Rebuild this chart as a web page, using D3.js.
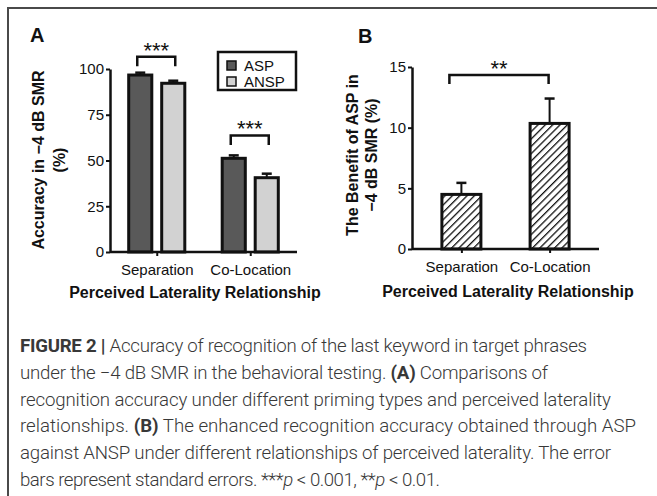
<!DOCTYPE html>
<html>
<head>
<meta charset="utf-8">
<script src="https://cdn.jsdelivr.net/npm/d3@7"></script>
<style>
  body { margin: 0; background: #fff; }
  svg text { font-family: "Liberation Sans", Arial, sans-serif; fill: #111; }
  .caption text { font-family: Roboto, "Liberation Sans", sans-serif; fill: #383838; }
</style>
</head>
<body>
<div id="fig"></div>
<script>
// ---- data ----
var groups = ["Separation", "Co-Location"];
var primingTypes = ["ASP", "ANSP"];
var accuracyASP = [96.7, 51.2];
var accuracyANSP = [92.2, 40.6];
var accuracyASPErr = [1.3, 1.6];
var accuracyANSPErr = [1.4, 2.2];
var accuracyTicks = [0, 25, 50, 75, 100];
var benefit = [4.5, 10.35];
var benefitErr = [0.95, 2.05];
var benefitTicks = [0, 5, 10, 15];

var captionLines = [
  [["FIGURE 2 |", "b"], [" Accuracy of recognition of the last keyword in target phrases"]],
  [["under the \u22124 dB SMR in the behavioral testing. "], ["(A)", "b"], [" Comparisons of"]],
  [["recognition accuracy under different priming types and perceived laterality"]],
  [["relationships. "], ["(B)", "b"], [" The enhanced recognition accuracy obtained through ASP"]],
  [["against ANSP under different relationships of perceived laterality. The error"]],
  [["bars represent standard errors. ***"], ["p", "i"], [" < 0.001, **"], ["p", "i"], [" < 0.01."]]
];
// where each caption line ends in the reference
var captionRight = [587, 548, 611, 636, 611, 440];

var W = 657, H = 496;
var svg = d3.select("#fig").append("svg")
    .attr("width", W)
    .attr("height", H);

// hatch pattern for panel B
var defs = svg.append("defs");
defs.append("pattern")
    .attr("id", "hatch")
    .attr("patternUnits", "userSpaceOnUse")
    .attr("width", 5.2)
    .attr("height", 5.2)
    .attr("patternTransform", "rotate(45)")
  .append("line")
    .attr("x1", 0).attr("y1", 0)
    .attr("x2", 0).attr("y2", 5.2)
    .attr("stroke", "#111")
    .attr("stroke-width", 2.6);

// frame (top and left only)
svg.append("path")
    .attr("d", "M8,496 L8,8 L657,8")
    .attr("fill", "none")
    .attr("stroke", "#4a4a4a")
    .attr("stroke-width", 2);

function styleAxis(g) {
  g.select(".domain").attr("stroke", "#111").attr("stroke-width", 2.5);
  g.selectAll(".tick line").attr("stroke", "#111").attr("stroke-width", 2);
  g.selectAll(".tick text").style("font-size", "15px").attr("fill", "#111");
}

function bracket(g, x1, x2, yTop, yLeg, label) {
  g.append("path")
      .attr("d", "M" + x1 + "," + yLeg + " L" + x1 + "," + yTop + " L" + x2 + "," + yTop + " L" + x2 + "," + yLeg)
      .attr("fill", "none")
      .attr("stroke", "#111")
      .attr("stroke-width", 2.5);
  g.append("text")
      .attr("x", (x1 + x2) / 2)
      .attr("y", yTop + 1)
      .attr("text-anchor", "middle")
      .style("font-size", "22px")
      .text(label);
}

// ================= Panel A =================
var a = svg.append("g");
var xA = d3.scalePoint().domain(groups).range([110, 297]).padding(0.5);
var xSub = d3.scaleBand().domain(primingTypes).range([-33, 33]).paddingInner(0.3).paddingOuter(0.15);
var yA = d3.scaleLinear().domain([0, 100]).range([252, 69]);
var colorA = d3.scaleOrdinal().domain(primingTypes).range(["#595959", "#d2d2d2"]);

var dataA = groups.map(function(g, i) {
  return {
    group: g,
    bars: [
      {key: "ASP", value: accuracyASP[i], err: accuracyASPErr[i]},
      {key: "ANSP", value: accuracyANSP[i], err: accuracyANSPErr[i]}
    ]
  };
});

a.append("g")
    .attr("transform", "translate(110,0)")
    .call(d3.axisLeft(yA).tickValues(accuracyTicks).tickSize(4).tickPadding(2).tickSizeOuter(0))
    .call(styleAxis);

var groupA = a.selectAll("g.bar-group")
    .data(dataA)
  .enter().append("g")
    .attr("class", "bar-group")
    .attr("transform", function(d) { return "translate(" + xA(d.group) + ",0)"; });

var barA = groupA.selectAll("g.bar")
    .data(function(d) { return d.bars; })
  .enter().append("g")
    .attr("class", "bar");

barA.append("line")
    .attr("x1", function(d) { return xSub(d.key) + xSub.bandwidth() / 2; })
    .attr("x2", function(d) { return xSub(d.key) + xSub.bandwidth() / 2; })
    .attr("y1", function(d) { return yA(d.value); })
    .attr("y2", function(d) { return yA(d.value + d.err); })
    .attr("stroke", "#111").attr("stroke-width", 2);
barA.append("line")
    .attr("x1", function(d) { return xSub(d.key) + xSub.bandwidth() / 2 - 5; })
    .attr("x2", function(d) { return xSub(d.key) + xSub.bandwidth() / 2 + 5; })
    .attr("y1", function(d) { return yA(d.value + d.err); })
    .attr("y2", function(d) { return yA(d.value + d.err); })
    .attr("stroke", "#111").attr("stroke-width", 2.5);
barA.append("rect")
    .attr("x", function(d) { return xSub(d.key); })
    .attr("y", function(d) { return yA(d.value); })
    .attr("width", xSub.bandwidth())
    .attr("height", function(d) { return yA(0) - yA(d.value); })
    .attr("fill", function(d) { return colorA(d.key); })
    .attr("stroke", "#111")
    .attr("stroke-width", 3);

a.append("g")
    .attr("transform", "translate(0,252)")
    .call(d3.axisBottom(xA).tickSize(4).tickPadding(8).tickSizeOuter(0))
    .call(function(g) {
      g.select(".domain").attr("d", "M110,0H297");
    })
    .call(styleAxis);

// significance brackets, gap above the taller error bar
var bracketGap = [16, 20];
dataA.forEach(function(d, i) {
  var cx = xA(d.group);
  var x1 = cx + xSub("ASP") + xSub.bandwidth() / 2 - 3;
  var x2 = cx + xSub("ANSP") + xSub.bandwidth() / 2 + 2;
  var top = yA(d3.max(d.bars, function(b) { return b.value + b.err; })) - bracketGap[i];
  bracket(a, x1, x2, top, top + 9.5, "***");
});

// legend
var legend = a.append("g");
legend.append("rect")
    .attr("x", 218).attr("y", 52)
    .attr("width", 78).attr("height", 38)
    .attr("fill", "#fff")
    .attr("stroke", "#111")
    .attr("stroke-width", 2.5);
primingTypes.forEach(function(k, i) {
  legend.append("rect")
      .attr("x", 227).attr("y", 61 + i * 16)
      .attr("width", 9).attr("height", 9)
      .attr("fill", colorA(k))
      .attr("stroke", "#111")
      .attr("stroke-width", 1.5);
  legend.append("text")
      .attr("x", 244).attr("y", 71 + i * 16)
      .style("font-size", "15px")
      .text(k);
});

// titles
a.append("text")
    .attr("x", 30).attr("y", 42)
    .style("font-size", "20px").style("font-weight", "bold")
    .text("A");
a.append("text")
    .attr("transform", "translate(44,160) rotate(-90)")
    .attr("text-anchor", "middle")
    .style("font-size", "16px").style("font-weight", "bold")
    .text("Accuracy in \u22124 dB SMR");
a.append("text")
    .attr("transform", "translate(65,160) rotate(-90)")
    .attr("text-anchor", "middle")
    .style("font-size", "16px").style("font-weight", "bold")
    .text("(%)");
a.append("text")
    .attr("x", 195).attr("y", 298)
    .attr("text-anchor", "middle")
    .style("font-size", "16px").style("font-weight", "bold")
    .text("Perceived Laterality Relationship");

// ================= Panel B =================
var b = svg.append("g");
var xB = d3.scalePoint().domain(groups).range([412, 599]).padding(0.56);
var yB = d3.scaleLinear().domain([0, 15]).range([249, 67]);
var barW = 39;

var dataB = groups.map(function(g, i) {
  return {group: g, value: benefit[i], err: benefitErr[i]};
});

b.append("g")
    .attr("transform", "translate(412,0)")
    .call(d3.axisLeft(yB).tickValues(benefitTicks).tickSize(4).tickPadding(2).tickSizeOuter(0))
    .call(styleAxis);

var barB = b.selectAll("g.bar")
    .data(dataB)
  .enter().append("g")
    .attr("class", "bar");

barB.append("line")
    .attr("x1", function(d) { return xB(d.group); })
    .attr("x2", function(d) { return xB(d.group); })
    .attr("y1", function(d) { return yB(d.value); })
    .attr("y2", function(d) { return yB(d.value + d.err); })
    .attr("stroke", "#111").attr("stroke-width", 2);
barB.append("line")
    .attr("x1", function(d) { return xB(d.group) - 5; })
    .attr("x2", function(d) { return xB(d.group) + 5; })
    .attr("y1", function(d) { return yB(d.value + d.err); })
    .attr("y2", function(d) { return yB(d.value + d.err); })
    .attr("stroke", "#111").attr("stroke-width", 2.5);
barB.append("rect")
    .attr("x", function(d) { return xB(d.group) - barW / 2; })
    .attr("y", function(d) { return yB(d.value); })
    .attr("width", barW)
    .attr("height", function(d) { return yB(0) - yB(d.value); })
    .attr("fill", "#fff");
barB.append("rect")
    .attr("x", function(d) { return xB(d.group) - barW / 2; })
    .attr("y", function(d) { return yB(d.value); })
    .attr("width", barW)
    .attr("height", function(d) { return yB(0) - yB(d.value); })
    .attr("fill", "url(#hatch)")
    .attr("stroke", "#111")
    .attr("stroke-width", 3);

b.append("g")
    .attr("transform", "translate(0,249)")
    .call(d3.axisBottom(xB).tickSize(4).tickPadding(8).tickSizeOuter(0))
    .call(function(g) {
      g.select(".domain").attr("d", "M412,0H599");
    })
    .call(styleAxis);

bracket(b, xB(groups[0]) - 12, xB(groups[1]) - 1, 75, 84, "**");

b.append("text")
    .attr("x", 358).attr("y", 43)
    .style("font-size", "20px").style("font-weight", "bold")
    .text("B");
b.append("text")
    .attr("transform", "translate(358,155) rotate(-90)")
    .attr("text-anchor", "middle")
    .style("font-size", "16px").style("font-weight", "bold")
    .text("The Benefit of ASP in");
b.append("text")
    .attr("transform", "translate(377,155) rotate(-90)")
    .attr("text-anchor", "middle")
    .style("font-size", "16px").style("font-weight", "bold")
    .text("\u22124 dB SMR (%)");
b.append("text")
    .attr("x", 508).attr("y", 297)
    .attr("text-anchor", "middle")
    .style("font-size", "16px").style("font-weight", "bold")
    .text("Perceived Laterality Relationship");

// ================= Caption =================
var cap = svg.append("g").attr("class", "caption");
var capLines = cap.selectAll("text")
    .data(captionLines)
  .enter().append("text")
    .attr("x", 20)
    .attr("y", function(d, i) { return 352 + i * 26.8; })
    .style("font-size", "17px")
    .style("font-weight", 300);

capLines.selectAll("tspan")
    .data(function(d) { return d; })
  .enter().append("tspan")
    .style("font-weight", function(d) { return d[1] === "b" ? 700 : null; })
    .style("font-style", function(d) { return d[1] === "i" ? "italic" : null; })
    .text(function(d) { return d[0]; });

// fit caption size to line 4, then nudge letter spacing of each line
var ref = capLines.filter(function(d, i) { return i === 3; }).node().getComputedTextLength();
capLines.style("font-size", (17 * 616 / ref) + "px");
capLines.each(function(d, i) {
  var n = d.map(function(s) { return s[0]; }).join("").length;
  var len = this.getComputedTextLength();
  var ls = (captionRight[i] - 20 - len) / (n - 1);
  d3.select(this).style("letter-spacing", ls + "px");
});
</script>
</body>
</html>
